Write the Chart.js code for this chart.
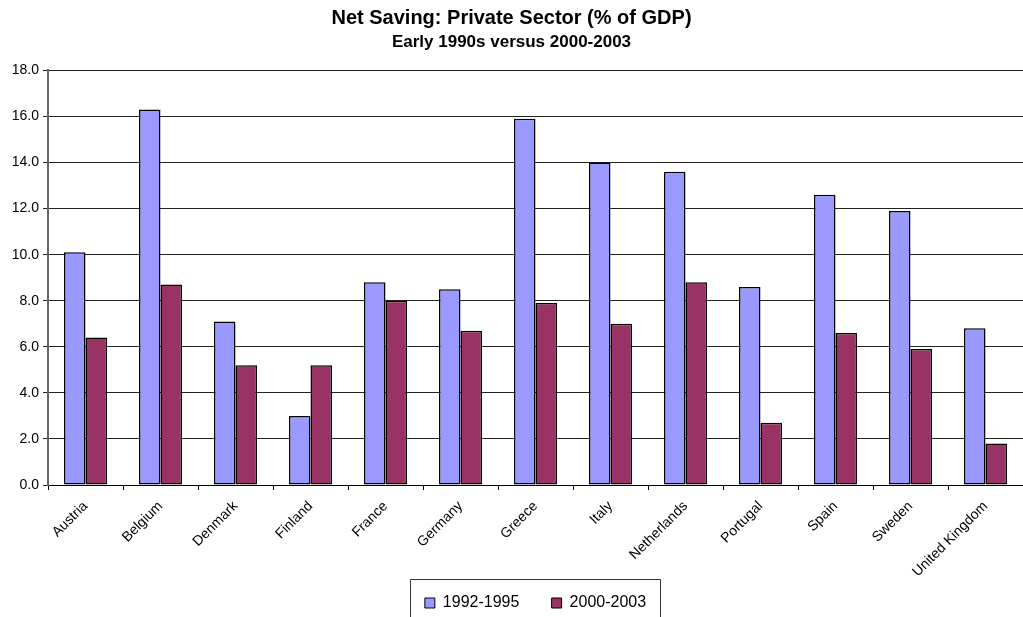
<!DOCTYPE html>
<html>
<head>
<meta charset="utf-8">
<script src="https://cdn.jsdelivr.net/npm/chart.js@4"></script>
<style>
  html, body { margin: 0; padding: 0; background: #fff; }
  #wrap { width: 1023px; height: 617px; position: relative; }
</style>
</head>
<body>
<div id="wrap"><canvas id="myChart"></canvas></div>
<script>
// Countries along the x-axis
var countries = ['Austria', 'Belgium', 'Denmark', 'Finland', 'France', 'Germany', 'Greece',
  'Italy', 'Netherlands', 'Portugal', 'Spain', 'Sweden', 'United Kingdom'];

// Net private saving, % of GDP
var early90s = [10.1, 16.3, 7.1, 3.0, 8.8, 8.5, 15.9, 14.0, 13.6, 8.6, 12.6, 11.9, 6.8];
var y2000s = [6.4, 8.7, 5.2, 5.2, 8.0, 6.7, 7.9, 7.0, 8.8, 2.7, 6.6, 5.9, 1.8];

var seriesNames = ['1992-1995', '2000-2003'];

var font = '"Liberation Sans", Arial, Helvetica, sans-serif';

// box round the legend, running off the bottom like the original
var legendBox = {
  id: 'legendBox',
  afterDraw: function (chart) {
    var boxes = chart.legend.legendHitBoxes;
    if (!boxes || !boxes.length) return;
    var first = boxes[0], last = boxes[boxes.length - 1];
    var ctx = chart.ctx;
    ctx.save();
    ctx.strokeStyle = '#333';
    ctx.lineWidth = 1;
    var x0 = Math.round(first.left - 15) + 0.5;
    var x1 = Math.round(last.left + last.width + 14) + 0.5;
    var y0 = Math.round(first.top - 16) + 0.5;
    ctx.beginPath();
    ctx.moveTo(x0, chart.height + 2);
    ctx.lineTo(x0, y0);
    ctx.lineTo(x1, y0);
    ctx.lineTo(x1, chart.height + 2);
    ctx.stroke();
    ctx.restore();
  }
};

var ctx = document.getElementById('myChart');
var myChart = new Chart(ctx, {
  type: 'bar',
  data: {
    labels: countries,
    datasets: [
      {
        label: seriesNames[0],
        data: early90s,
        backgroundColor: '#9999FF',
        borderColor: '#000',
        borderWidth: 1.5,
        borderSkipped: false,
        categoryPercentage: 0.573,
        barPercentage: 1.0
      },
      {
        label: seriesNames[1],
        data: y2000s,
        backgroundColor: '#993366',
        borderColor: '#000',
        borderWidth: 1.5,
        borderSkipped: false,
        categoryPercentage: 0.573,
        barPercentage: 1.0
      }
    ]
  },
  options: {
    responsive: true,
    maintainAspectRatio: false,
    animation: false,
    layout: { padding: { left: 0, right: 0, top: 0, bottom: -4 } },
    plugins: {
      title: {
        display: true,
        text: 'Net Saving: Private Sector (% of GDP)',
        color: '#000',
        font: { family: font, size: 20, weight: 'bold' },
        padding: { top: 6, bottom: 2 }
      },
      subtitle: {
        display: true,
        text: 'Early 1990s versus 2000-2003',
        color: '#000',
        font: { family: font, size: 17, weight: 'bold' },
        padding: { top: 0, bottom: 18 }
      },
      legend: {
        position: 'bottom',
        fullSize: false,
        labels: {
          color: '#000',
          font: { family: font, size: 16 },
          boxWidth: 10,
          boxHeight: 10,
          padding: 10,
          // a few trailing spaces widen the gap between the two entries
          generateLabels: function (chart) {
            var items = Chart.defaults.plugins.legend.labels.generateLabels(chart);
            items.forEach(function (it, i) {
              it.lineWidth = 1;
              if (i < items.length - 1) it.text = it.text + '     ';
            });
            return items;
          }
        }
      },
      tooltip: { enabled: false }
    },
    scales: {
      x: {
        grid: {
          drawOnChartArea: false,
          drawTicks: true,
          tickLength: 5,
          color: '#000'
        },
        border: { display: true, color: '#000', width: 1 },
        ticks: {
          color: '#000',
          font: { family: font, size: 14 },
          minRotation: 45,
          maxRotation: 45,
          autoSkip: false,
          padding: 8
        },
        afterFit: function (scale) { scale.height = 100; }
      },
      y: {
        min: 0,
        max: 18,
        grid: {
          color: '#222',
          lineWidth: 1,
          drawTicks: true,
          tickLength: 5
        },
        border: { display: true, color: '#666', width: 2 },
        ticks: {
          stepSize: 2,
          color: '#000',
          font: { family: font, size: 14 },
          padding: 4,
          callback: function (v) { return Number(v).toFixed(1); }
        },
        afterFit: function (scale) { scale.width = 48; }
      }
    }
  },
  plugins: [legendBox]
});
</script>
</body>
</html>
